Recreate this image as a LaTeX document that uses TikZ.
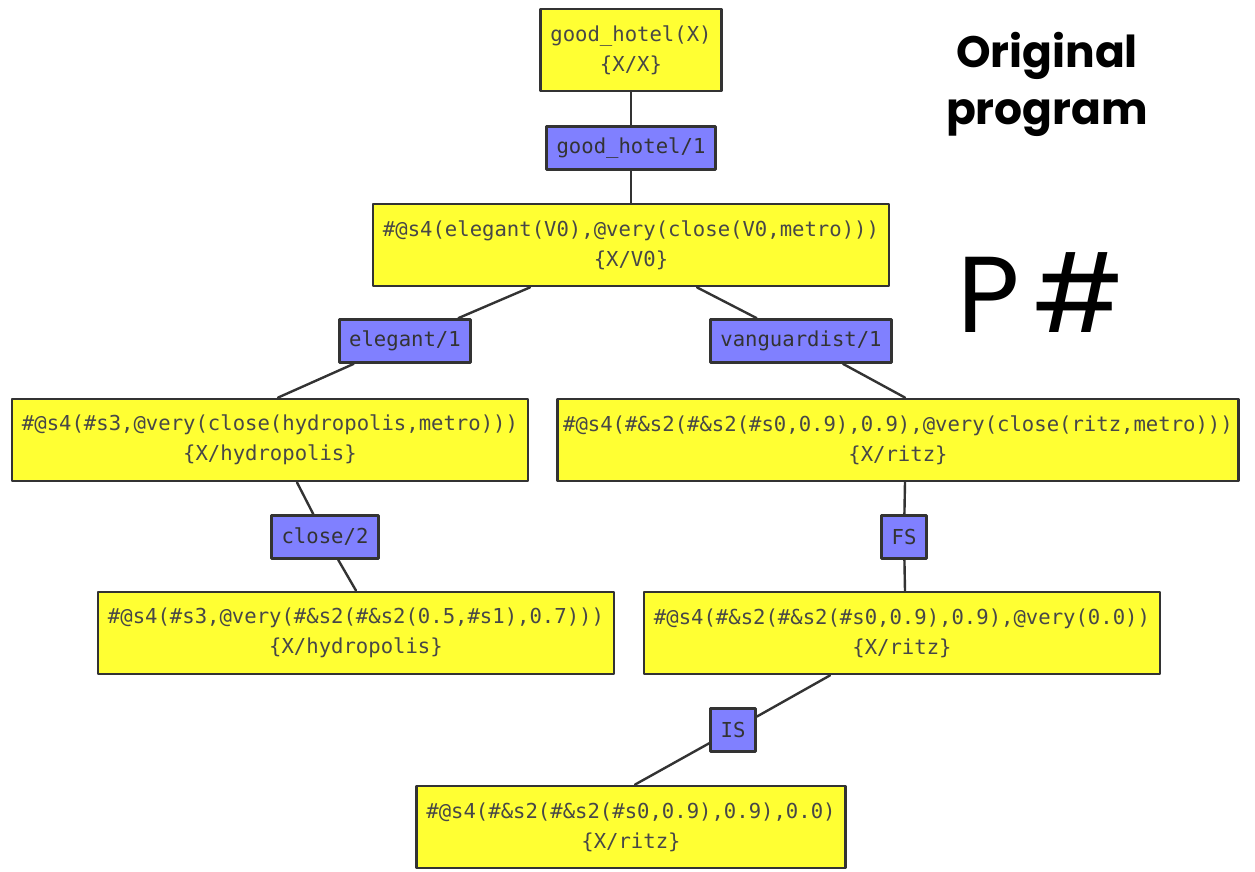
\documentclass[tikz,border=0pt]{standalone}
\usepackage{fontspec}
\setmonofont{DejaVu Sans Mono}
\newfontfamily\titlefont{Poppins}
\usetikzlibrary{positioning}
\definecolor{goalyellow}{RGB}{255,255,51}
\definecolor{ruleblue}{RGB}{128,128,255}
\definecolor{edgegray}{RGB}{51,51,51}

\tikzset{
  goal/.style={draw=edgegray, line width=1.4pt, fill=goalyellow, align=center,
    inner xsep=5pt, minimum height=41pt, text=black!72,
    font=\ttfamily\fontsize{10.3}{15}\selectfont},
  rulelbl/.style={draw=edgegray, line width=1.4pt, fill=ruleblue,
    inner xsep=5pt, minimum height=21.5pt, text=black!80,
    font=\ttfamily\fontsize{10.3}{12}\selectfont},
  link/.style={draw=edgegray, line width=1.2pt}
}

\begin{document}
\begin{tikzpicture}[x=0.5pt, y=-0.5pt, line cap=round, line join=round]

% --- Canvas (pixels of the original) ---
\useasboundingbox (0,0) rectangle (1255,872);

% --- Goals ---
\node[goal] (b1)  at (631,50)  {good\_hotel(X)\\\{X/X\}};
\node[goal] (b2)  at (631,245) {\#@s4(elegant(V0),@very(close(V0,metro)))\\\{X/V0\}};
\node[goal] (b3l) at (270,440) {\#@s4(\#s3,@very(close(hydropolis,metro)))\\\{X/hydropolis\}};
\node[goal, inner xsep=3pt] (b3r) at (898,440) {\#@s4(\#\&s2(\#\&s2(\#s0,0.9),0.9),@very(close(ritz,metro)))\\\{X/ritz\}};
\node[goal] (b4l) at (356,633) {\#@s4(\#s3,@very(\#\&s2(\#\&s2(0.5,\#s1),0.7)))\\\{X/hydropolis\}};
\node[goal] (b4r) at (902,633) {\#@s4(\#\&s2(\#\&s2(\#s0,0.9),0.9),@very(0.0))\\\{X/ritz\}};
\node[goal] (b5)  at (631,827) {\#@s4(\#\&s2(\#\&s2(\#s0,0.9),0.9),0.0)\\\{X/ritz\}};

% --- Rule labels ---
\node[rulelbl] (gh) at (631,148) {good\_hotel/1};
\node[rulelbl] (el) at (405,341) {elegant/1};
\node[rulelbl] (va) at (801,341) {vanguardist/1};
\node[rulelbl] (cl) at (325,537) {close/2};
\node[rulelbl] (fs) at (904,537) {FS};
\node[rulelbl] (is) at (733,730) {IS};

% --- Derivation steps ---
\draw[link] (b1) -- (gh) -- (b2);
\draw[link] ([xshift=-50.5pt]b2.south) -- (el) -- ([xshift=4pt]b3l.north);
\draw[link] ([xshift=33pt]b2.south) -- (va) -- ([xshift=3.5pt]b3r.north);
\draw[link] ([xshift=13.5pt]b3l.south) -- (cl) -- (b4l.north);
\draw[link] ([xshift=3.5pt]b3r.south) -- (fs) -- ([xshift=1.5pt]b4r.north);
\draw[link] ([xshift=-36pt]b4r.south) -- (is) -- ([xshift=2pt]b5.north);

% --- Title ---
\node[align=center, anchor=base, inner sep=0pt,
  font=\titlefont\bfseries\fontsize{22}{28.5}\selectfont] (title) at (1047,125)
  {Original\\program};
\node[anchor=base, inner sep=0pt,
  font=\titlefont\fontsize{54}{54}\selectfont] (psharp) at (1041,333) {P\kern7pt\#};

\end{tikzpicture}
\end{document}
